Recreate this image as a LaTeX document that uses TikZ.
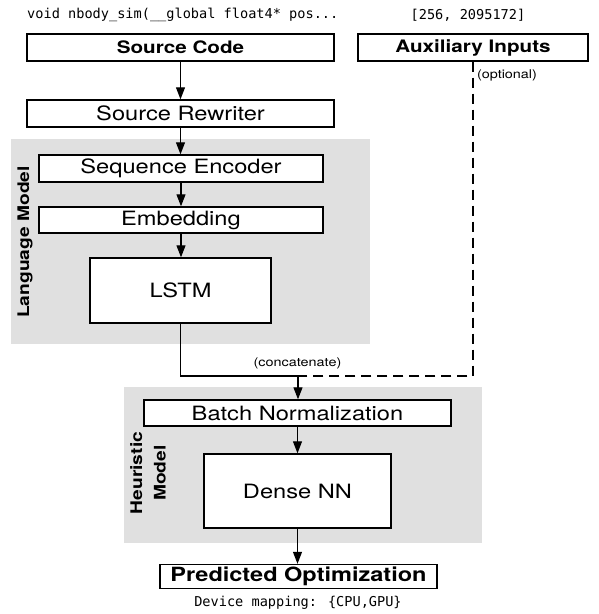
\documentclass[tikz,border=0pt]{standalone}
\usepackage{fontspec}
\setmainfont[FakeStretch=1.2]{TeX Gyre Heros}
\newfontfamily\codefont{DejaVu Sans Mono}
\usetikzlibrary{arrows.meta}
\definecolor{panelgray}{RGB}{224,224,224}
\tikzset{
  box/.style={draw, line width=1.4pt, fill=white, inner sep=0pt,
    font=\fontsize{19.7}{22}\selectfont},
  boldbox/.style={box, font=\fontsize{17.2}{20}\selectfont\bfseries},
  bigbox/.style={box, font=\fontsize{19.6}{22}\selectfont\bfseries},
  link/.style={line width=1.1pt},
  arr/.style={link, -{Triangle[width=9pt,length=12pt]}},
  panel/.style={fill=panelgray, draw=none},
  note/.style={font=\fontsize{12}{14}\selectfont, inner sep=0pt},
  code/.style={font=\codefont\fontsize{13.6}{16}\selectfont, inner sep=0pt},
  grouplabel/.style={font=\fontsize{16}{23.5}\selectfont\bfseries, rotate=90, align=center, inner sep=0pt}
}
\begin{document}
\begin{tikzpicture}[x=1pt,y=-1pt]
\useasboundingbox (0,0) rectangle (598,614);
% panels
\fill[panelgray] (11,139) rectangle (370,344);
\fill[panelgray] (124,387) rectangle (482,543);
% top texts
\node[code, anchor=west] (srctxt) at (27,15) {void nbody\_sim(\_\_global float4* pos...};
\node[code] (auxtxt) at (468,15) {[256, 2095172]};
% boxes
\node[boldbox, minimum width=307pt, minimum height=27pt] (sc) at (180.5,47.5) {Source Code};
\node[boldbox, minimum width=230pt, minimum height=27pt] (aux) at (473,47.5) {Auxiliary Inputs};
\node[box, minimum width=307pt, minimum height=27pt] (sr) at (180.5,113.5) {Source Rewriter};
\node[box, minimum width=284pt, minimum height=27pt] (se) at (181,168.5) {Sequence Encoder};
\node[box, minimum width=284pt, minimum height=26pt] (emb) at (181,220) {Embedding};
\node[box, minimum width=181pt, minimum height=65pt] (lstm) at (180.5,290.5) {LSTM};
\node[box, minimum width=307pt, minimum height=26pt] (bn) at (297.5,413) {Batch Normalization};
\node[box, minimum width=187pt, minimum height=74pt] (dnn) at (297.5,491) {Dense NN};
\node[bigbox, minimum width=277pt, minimum height=24pt] (po) at (298.5,576.5) {Predicted Optimization};
\node[code] (devtxt) at (298,603) {Device mapping: \{CPU,GPU\}};
% group labels
\node[grouplabel] (lmlbl) at (25,242) {Language Model};
\node[grouplabel] (hmlbl) at (148,473) {Heuristic\\Model};
% notes
\node[note] (optlbl) at (507,75) {(optional)};
\node[note] (catlbl) at (297.5,363) {(concatenate)};
% connectors
\coordinate (cat) at (298,376);
\draw[arr] (sc.south) -- (sr.north);
\draw[arr] (sr.south) -- (sr.south |- se.north);
\draw[arr] (se.south) -- (se.south |- emb.north);
\draw[arr] (emb.south) -- (emb.south |- lstm.north);
\draw[link] (lstm.south) |- (cat);
\draw[link, dash pattern=on 10pt off 6pt] (aux.south) |- (cat);
\draw[arr] (cat) -- (cat |- bn.north);
\draw[arr] (bn.south) -- (bn.south |- dnn.north);
\draw[arr] (dnn.south) -- (dnn.south |- po.north);
\end{tikzpicture}
\end{document}
